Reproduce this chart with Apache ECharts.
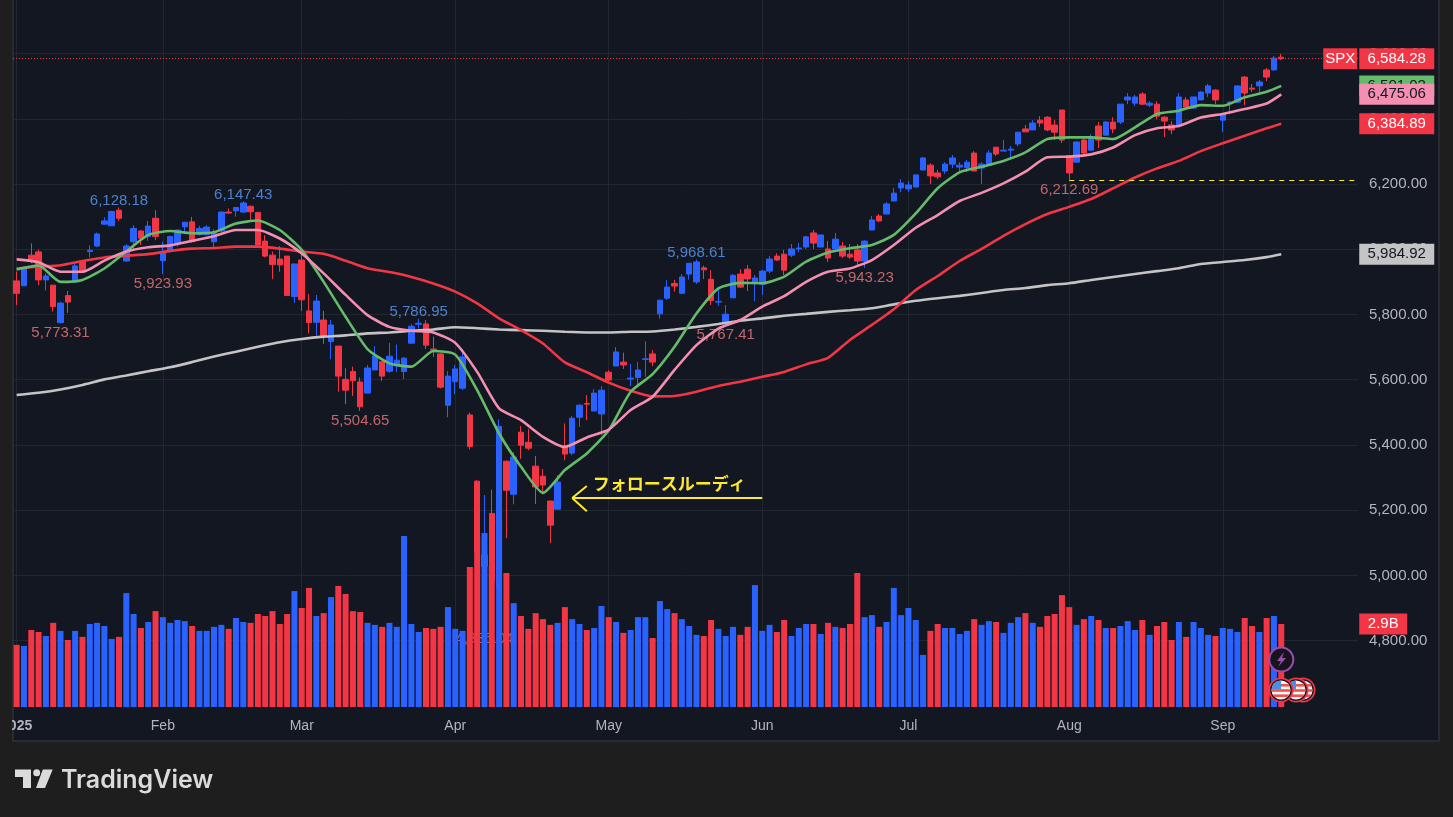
<!DOCTYPE html>
<html>
<head>
<meta charset="utf-8">
<title>SPX</title>
<script src="https://cdn.jsdelivr.net/npm/echarts@6/dist/echarts.min.js"></script>
<style>
html, body { margin: 0; padding: 0; background: #1e1e1e; overflow: hidden; }
#chart { width: 1453px; height: 817px; }
</style>
</head>
<body>
<div id="chart"></div>
<script>
const opens = [
    5903,5888,5982,5992,5906,5890,5775,5858,5900,5962,
    5993,6010,6077,6072,6120,5964,6023,6056,6039,6095,
    5965,5993,6016,6069,6084,6045,6045,6023,6056,6114,
    6118,6114,6132,6113,6025,5982,5970,5979,5855,5967,
    5811,5776,5783,5717,5703,5601,5625,5593,5559,5630,
    5655,5626,5642,5625,5712,5770,5771,5694,5679,5522,
    5594,5574,5492,5289,5028,5190,4965,5350,5249,5439,
    5408,5335,5304,5228,5203,5393,5375,5485,5527,5504,
    5495,5623,5642,5654,5602,5607,5662,5679,5802,5850,
    5895,5865,5924,5900,5943,5908,5838,5774,5851,5924,
    5939,5900,5893,5933,5979,5985,5982,6001,6007,6050,
    6007,6001,6001,6010,5985,5998,5964,6059,6102,6108,
    6148,6188,6185,6191,6243,6258,6234,6240,6261,6252,
    6251,6295,6249,6258,6313,6301,6304,6323,6369,6366,
    6396,6405,6381,6427,6286,6267,6335,6304,6378,6350,
    6390,6390,6458,6448,6476,6442,6445,6405,6381,6381,
    6458,6433,6458,6479,6488,6396,6448,6451,6528,6494,
    6501,6550,6550,6589
];
const closes = [
    5865,5945,5969,5906,5918,5824,5835,5838,5949,5932,
    5997,6047,6087,6116,6095,6010,6064,6034,6071,6039,
    5993,6039,6059,6083,6023,6064,6068,6049,6114,6111,
    6128,6142,6115,6013,5979,5953,5952,5858,5955,5845,
    5775,5841,5735,5768,5611,5568,5597,5517,5636,5673,
    5611,5672,5660,5666,5764,5773,5706,5691,5577,5611,
    5633,5670,5395,5074,5062,4983,5457,5261,5363,5399,
    5390,5271,5277,5154,5286,5372,5482,5522,5525,5559,
    5568,5599,5685,5645,5605,5630,5664,5654,5844,5884,
    5887,5915,5957,5961,5937,5843,5840,5801,5920,5884,
    5909,5912,5933,5970,5967,5936,6001,6004,6038,6019,
    6044,5973,6031,5979,5976,5964,6025,6090,6087,6139,
    6172,6203,6197,6228,6280,6225,6222,6261,6280,6258,
    6267,6240,6261,6295,6292,6304,6307,6359,6360,6387,
    6387,6366,6359,6335,6234,6329,6295,6344,6335,6390,
    6369,6445,6467,6467,6445,6448,6408,6393,6366,6467,
    6436,6467,6482,6501,6458,6415,6451,6501,6479,6491,
    6513,6528,6586,6584.28
];
const lows = [
    5829,5888,5957,5890,5873,5809,5773.31,5805,5899,5930,
    5975,6007,6075,6072,6087,5961,5995,6013,6026,6028,
    5923.93,5989,6008,6047,6020,6042,6042,6000,6053,6108,
    6100,6112,6085,6012,5975,5909,5931,5857,5836,5811,
    5742,5735,5710,5663,5563,5525,5550,5504.65,5559,5629,
    5596,5621,5624,5602,5712,5757,5694,5670,5573,5485,
    5556,5568,5386,5069,4835.04,4910,4948,5114,5218,5357,
    5384,5219,5249,5099,5203,5353,5369,5455,5476,5504,
    5430,5594,5642,5633,5580,5577,5609,5642,5787,5845,
    5870,5864,5907,5894,5909,5829,5827,5767.41,5851,5881,
    5872,5841,5860,5927,5964,5921,5976,5991,6001,6001,
    6006,5961,6001,5973,5970,5952,5943.23,6059,6083,6108,
    6148,6175,6175,6189,6243,6200,6215,6231,6249,6237,
    6237,6240,6200,6255,6286,6301,6280,6316,6360,6366,
    6375,6362,6335,6326,6212.69,6267,6292,6301,6310,6350,
    6356,6384,6445,6439,6442,6436,6399,6344,6353,6381,
    6433,6430,6458,6467,6445,6360,6415,6448,6442,6482,
    6482,6516,6547,6580
];
const highs = [
    5932,5946,6018,5999,5926,5890,5839,5872,5959,5965,
    6012,6051,6098,6118,6128.18,6016,6074,6059,6087,6120,
    6023,6042,6061,6084,6099,6072,6074,6061,6116,6125,
    6130,6147.43,6133,6114,6043,5993,6010,5979,5955,5987,
    5863,5860,5811,5783,5703,5635,5640,5607,5645,5703,
    5655,5713,5708,5670,5770,5786.95,5783,5732,5681,5626,
    5645,5695,5499,5292,5246,5263,5478,5353,5377,5458,
    5449,5366,5326,5228,5307,5466,5488,5525,5553,5571,
    5580,5629,5700,5683,5648,5654,5718,5691,5845,5906,
    5906,5924,5958,5968.61,5950,5936,5878,5829,5924,5939,
    5952,5921,5936,5979,5988,5998,6016,6019,6041,6059,
    6044,6025,6050,6022,6016,6016,6028,6102,6108,6145,
    6188,6215,6209,6228,6283,6264,6243,6267,6289,6267,
    6274,6301,6267,6304,6313,6335,6316,6359,6381,6396,
    6408,6408,6396,6427,6289,6329,6344,6353,6390,6393,
    6405,6445,6479,6473,6482,6454,6454,6408,6393,6479,
    6467,6467,6485,6507,6491,6415,6454,6501,6531,6507,
    6519,6556,6593,6599
];
const volumes = [
    2.17,2.13,2.69,2.62,2.48,2.94,2.66,2.34,2.66,2.45,
    2.90,2.94,2.83,2.38,2.45,3.98,3.25,2.76,2.97,3.35,
    3.14,2.94,3.04,3.00,2.83,2.66,2.66,2.80,2.87,2.73,
    3.11,2.97,2.94,3.25,3.18,3.35,2.90,3.25,4.05,3.46,
    4.16,3.18,3.28,3.84,4.23,3.95,3.35,3.32,2.94,2.87,
    2.80,2.94,2.80,5.97,2.90,2.62,2.76,2.73,2.80,3.49,
    2.73,2.66,4.89,5.94,6.08,4.93,6.50,4.68,3.63,3.18,
    2.73,3.28,3.07,2.87,2.94,3.49,3.07,2.90,2.69,2.76,
    3.53,3.14,2.97,2.59,2.69,3.14,3.14,2.41,3.70,3.42,
    3.28,3.07,2.83,2.52,2.48,3.04,2.73,2.48,2.80,2.52,
    2.80,4.26,2.66,2.87,2.62,3.04,2.48,2.76,2.90,2.90,
    2.55,2.94,2.80,2.76,2.90,4.68,3.14,3.21,2.80,2.97,
    4.16,3.21,3.46,3.04,1.82,2.66,2.90,2.76,2.76,2.55,
    2.66,3.07,2.87,3.00,2.97,2.59,2.94,3.14,3.28,2.94,
    2.80,3.18,3.25,3.91,3.49,2.87,3.07,3.18,3.04,2.76,
    2.76,2.83,3.00,2.69,3.04,2.52,2.83,2.97,2.34,2.97,
    2.45,2.97,2.76,2.52,2.48,2.76,2.73,2.62,3.11,2.83,
    2.62,3.11,3.18,2.90
];

// moving averages every third session
const maDays = [
    0,3,6,9,12,15,18,21,24,27,30,33,36,39,42,45,48,51,54,57,
    60,63,66,69,72,75,78,81,84,87,90,93,96,99,102,105,108,111,114,117,
    120,123,126,129,132,135,138,141,144,147,150,153,156,159,162,165,168,171,173
];
const maGreen = [
    5938,5950,5900,5906,5941,5993,6044,6056,6049,6052,6079,6088,6059,5998,5900,5793,5694,5650,5640,5688,
    5677,5568,5435,5333,5253,5323,5374,5445,5563,5617,5701,5803,5880,5897,5896,5916,5962,5990,6003,6013,
    6044,6110,6187,6236,6253,6271,6297,6338,6343,6343,6338,6374,6415,6425,6442,6440,6466,6483,6501.02
];
const maPink = [
    5969,5960,5931,5931,5965,5993,6006,6012,6026,6040,6059,6059,6033,5987,5926,5860,5798,5762,5750,5745,
    5713,5624,5512,5476,5425,5394,5423,5447,5507,5548,5630,5706,5757,5783,5824,5856,5900,5931,5941,5967,
    6013,6066,6105,6148,6173,6202,6238,6282,6284,6291,6312,6350,6371,6378,6404,6415,6430,6447,6475.06
];
const maRed = [
    5941,5947,5951,5964,5975,5980,5985,5995,6002,6004,6008,6008,6002,5993,5986,5965,5942,5930,5915,5895,
    5870,5834,5788,5752,5711,5653,5623,5591,5566,5549,5550,5563,5581,5594,5609,5624,5647,5667,5722,5768,
    5816,5875,5918,5964,6001,6041,6077,6108,6130,6154,6187,6220,6248,6271,6301,6325,6348,6371,6384.89
];
const maGrey = [
    5553,5560,5570,5584,5601,5613,5626,5638,5654,5671,5686,5701,5715,5725,5732,5736,5742,5745,5750,5754,
    5761,5758,5754,5752,5750,5747,5745,5745,5747,5748,5754,5762,5771,5781,5788,5796,5802,5808,5813,5819,
    5831,5842,5850,5857,5866,5875,5881,5890,5896,5906,5915,5924,5933,5942,5955,5961,5967,5976,5984.92
];

const highIdx = [14,31,55,93];
const highVal = [6128.18,6147.43,5786.95,5968.61];
const lowIdx = [6,20,47,64,97,116,144];
const lowVal = [5773.31,5923.93,5504.65,4835.04,5767.41,5943.23,6212.69];

const monthIdx = [0,20,39,60,81,102,122,144,165];
const monthNames = ['2025','Feb','Mar','Apr','May','Jun','Jul','Aug','Sep'];
const lastPrice = 6584.28;
const lastVolume = 2.9;
const noteText = 'フォロースルーディ';

const UP = '#2962ff';
const DOWN = '#f23645';
const NOTE = '#ffe92e';
const FONT = '"Liberation Sans", sans-serif';
const SLOTS = 184;   // 10 empty sessions to the right of the last bar

function fmt(v) {
    return v.toLocaleString('en-US', {minimumFractionDigits: 2, maximumFractionDigits: 2});
}

const categories = [];
for (let i = 0; i < SLOTS; i++) {
    const m = monthIdx.indexOf(i);
    categories.push(m >= 0 ? monthNames[m] : '');
}

const candles = opens.map(function (o, i) {
    return [o, closes[i], lows[i], highs[i]];
});

const volumeBars = volumes.map(function (v, i) {
    return {value: v, itemStyle: {color: closes[i] >= opens[i] ? UP : DOWN}};
});

function pill(coord, text, bg, fg, offsetX, w) {
    return {
        coord: coord,
        symbol: 'rect',
        symbolSize: [w, 21],
        symbolOffset: [offsetX, 0],
        itemStyle: {color: bg},
        label: {show: true, position: 'inside', formatter: text, color: fg, fontSize: 15, fontFamily: FONT}
    };
}

function maSeries(name, values, color, pillText, pillFg, z) {
    return {
        name: name,
        type: 'line',
        xAxisIndex: 0,
        yAxisIndex: 0,
        z: z,
        data: maDays.map(function (d, i) { return [d, values[i]]; }),
        showSymbol: false,
        smooth: 0.2,
        lineStyle: {color: color, width: 2.6},
        markPoint: {
            silent: true,
            z: z + 6,
            data: [pill([173, values[values.length - 1]], pillText, color, pillFg, 115.5, 75)]
        }
    };
}

function extremeItem(i, v, isHigh) {
    return {
        value: [i, v],
        label: {
            show: true,
            position: isHigh ? 'top' : 'bottom',
            distance: isHigh ? -1 : 2.5,
            formatter: fmt(v),
            color: isHigh ? '#5b9cf6' : '#ef7a7e',
            fontSize: 15,
            fontFamily: FONT
        }
    };
}

function flagSvg() {
    const svg = '<svg xmlns="http://www.w3.org/2000/svg" width="52" height="52" viewBox="0 0 26 26">' +
        '<defs><clipPath id="c"><circle cx="13" cy="13" r="9.5"/></clipPath></defs>' +
        '<circle cx="13" cy="13" r="12.5" fill="#f23645"/><circle cx="13" cy="13" r="10.8" fill="#131722"/>' +
        '<g clip-path="url(#c)"><rect width="26" height="26" fill="#f5f5f5"/>' +
        '<rect y="7" width="26" height="2.6" fill="#ef5350"/><rect y="12.2" width="26" height="2.6" fill="#ef5350"/>' +
        '<rect y="17.4" width="26" height="2.6" fill="#ef5350"/><rect width="13" height="12.4" fill="#4a8fe0"/></g></svg>';
    return 'data:image/svg+xml;charset=utf-8,' + encodeURIComponent(svg);
}

const option = {
    animation: false,
    backgroundColor: 'transparent',
    // the clipped "2025" label must not push the grid inward
    grid: [
        {left: 13, width: 1345, top: 53.6, height: 587, outerBoundsMode: 'none'},
        {left: 13, width: 1345, top: 0, height: 707, outerBoundsMode: 'none'}
    ],
    xAxis: [
        {
            type: 'category', gridIndex: 0, data: categories,
            axisLine: {show: false}, axisTick: {show: false}, axisLabel: {show: false}, splitLine: {show: false}
        },
        {
            type: 'category', gridIndex: 1, data: categories,
            axisLine: {show: false},
            axisTick: {show: false},
            axisLabel: {
                interval: function (index) { return monthIdx.indexOf(index) >= 0; },
                color: '#b2b5be', fontSize: 14, fontFamily: FONT, margin: 12,
                formatter: function (v) { return v === '2025' ? '{b|2025}' : v; },
                rich: {b: {fontWeight: 'bold', color: '#b2b5be', fontSize: 14, fontFamily: FONT}}
            },
            splitLine: {
                show: true,
                alignWithLabel: true,
                interval: function (index) { return monthIdx.indexOf(index) >= 0; },
                lineStyle: {color: '#22262f', width: 1}
            }
        }
    ],
    yAxis: [
        {
            type: 'value', gridIndex: 0, position: 'right', min: 4800, max: 6600, interval: 200,
            axisLine: {show: false}, axisTick: {show: false},
            axisLabel: {color: '#b2b5be', fontSize: 15, fontFamily: FONT, margin: 11, formatter: fmt},
            splitLine: {lineStyle: {color: '#22262f', width: 1}}
        },
        {
            type: 'value', gridIndex: 1, min: 0, max: 24.7,
            axisLine: {show: false}, axisTick: {show: false}, axisLabel: {show: false}, splitLine: {show: false}
        }
    ],
    series: [
        {
            name: 'labels',
            type: 'scatter',
            xAxisIndex: 0,
            yAxisIndex: 0,
            z: 1,
            symbolSize: 0,
            data: highIdx.map(function (d, i) { return extremeItem(d, highVal[i], true); })
                .concat(lowIdx.map(function (d, i) { return extremeItem(d, lowVal[i], false); }))
        },
        {
            name: 'SPX',
            type: 'candlestick',
            xAxisIndex: 0,
            yAxisIndex: 0,
            z: 3,
            barWidth: 6,
            data: candles,
            itemStyle: {color: UP, color0: DOWN, borderColor: UP, borderColor0: DOWN, borderWidth: 1},
            markLine: {
                silent: true,
                symbol: ['none', 'none'],
                label: {show: false},
                animation: false,
                data: [
                    {yAxis: lastPrice, lineStyle: {color: DOWN, type: [1, 2], width: 1}},
                    [{coord: [144, 6212.69], lineStyle: {color: NOTE, type: [5, 5], width: 1}}, {coord: [183, 6212.69]}],
                    [{coord: [102, 5237], lineStyle: {color: NOTE, type: 'solid', width: 2}}, {coord: [76, 5237]}],
                    [{coord: [78, 5274], lineStyle: {color: NOTE, type: 'solid', width: 2}}, {coord: [76, 5237]}],
                    [{coord: [78, 5197], lineStyle: {color: NOTE, type: 'solid', width: 2}}, {coord: [76, 5237]}]
                ]
            },
            markPoint: {
                silent: true,
                z: 20,
                data: [
                    pill([173, lastPrice], 'SPX', DOWN, '#ffffff', 59, 34),
                    pill([173, lastPrice], fmt(lastPrice), DOWN, '#ffffff', 115.5, 75),
                    {
                        coord: [79, 5283],
                        symbol: 'circle',
                        symbolSize: 1,
                        symbolOffset: [-2, 0],
                        itemStyle: {color: 'transparent'},
                        label: {
                            show: true, position: 'right', distance: 0, formatter: noteText,
                            color: NOTE, fontSize: 17, fontWeight: 'bold', fontFamily: '"Noto Sans CJK JP", sans-serif'
                        }
                    }
                ]
            }
        },
        maSeries('MA grey', maGrey, '#c4c4c4', fmt(maGrey[maGrey.length - 1]), '#131722', 4),
        maSeries('MA red', maRed, DOWN, fmt(maRed[maRed.length - 1]), '#ffffff', 4),
        maSeries('MA green', maGreen, '#66bb6a', fmt(maGreen[maGreen.length - 1]), '#131722', 4),
        maSeries('MA pink', maPink, '#f48fb1', fmt(maPink[maPink.length - 1]), '#131722', 5),
        {
            name: 'Volume',
            type: 'bar',
            xAxisIndex: 1,
            yAxisIndex: 1,
            z: 6,
            barWidth: 6,
            data: volumeBars,
            markPoint: {
                silent: true,
                z: 20,
                data: [pill([173, lastVolume], lastVolume + 'B', DOWN, '#ffffff', 102, 48)]
            }
        }
    ],
    graphic: [
        {type: 'rect', z: -10, shape: {x: 13, y: -2, width: 1426, height: 743}, style: {fill: '#131722', stroke: '#2a2b30', lineWidth: 2}},
        {type: 'rect', z: 50, shape: {x: 0, y: 0, width: 12, height: 741}, style: {fill: '#1e1e1e'}},
        // event badges at the end of the volume bars
        {type: 'image', z: 60, style: {image: flagSvg(), x: 1290, y: 677, width: 26, height: 26}},
        {type: 'image', z: 61, style: {image: flagSvg(), x: 1283, y: 677, width: 26, height: 26}},
        {type: 'image', z: 62, style: {image: flagSvg(), x: 1268, y: 677, width: 26, height: 26}},
        {type: 'circle', z: 60, shape: {cx: 1281.3, cy: 659.5, r: 12}, style: {fill: '#17141f', stroke: '#9c4dad', lineWidth: 2}},
        {type: 'polygon', z: 61, shape: {points: [[1284, 652], [1277, 661], [1281, 661], [1278, 667], [1286, 658], [1282, 658]]}, style: {fill: '#9c4dad'}},
        // TradingView logo
        {type: 'polygon', z: 60, shape: {points: [[15, 769.5], [31, 769.5], [31, 788], [23, 788], [23, 777], [15, 777]]}, style: {fill: '#dbdbdb'}},
        {type: 'circle', z: 60, shape: {cx: 36.7, cy: 772.8, r: 3.5}, style: {fill: '#dbdbdb'}},
        {type: 'polygon', z: 60, shape: {points: [[42.8, 769.5], [52.7, 769.5], [45, 788], [36, 788]]}, style: {fill: '#dbdbdb'}},
        {type: 'text', z: 60, style: {text: 'TradingView', x: 61, y: 780, textVerticalAlign: 'middle', fill: '#dbdbdb', font: '600 25px Inter, sans-serif'}}
    ]
};

const chart = echarts.init(document.getElementById('chart'));
chart.setOption(option);
</script>
</body>
</html>
